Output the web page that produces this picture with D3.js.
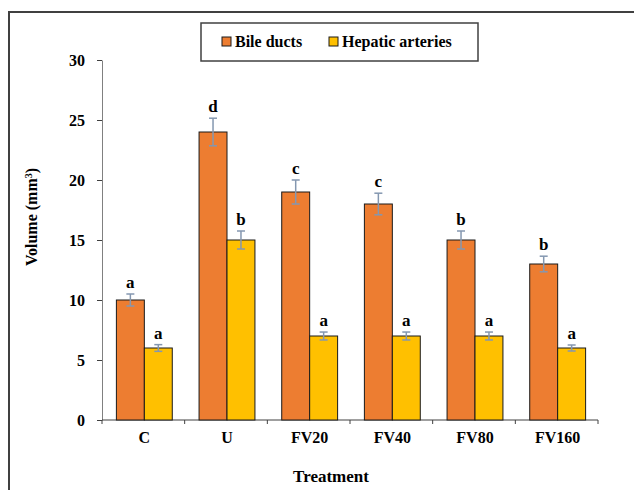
<!DOCTYPE html>
<html>
<head>
<meta charset="utf-8">
<script src="https://cdn.jsdelivr.net/npm/d3@7"></script>
<style>
  body { margin: 0; background: #fff; }
  text { font-family: "Liberation Serif", "Times New Roman", serif; font-weight: bold; fill: #000; }
</style>
</head>
<body>
<svg id="chart"></svg>
<script>
const treatments = ['C', 'U', 'FV20', 'FV40', 'FV80', 'FV160']
const seriesNames = ['Bile ducts', 'Hepatic arteries']
const bileDucts = [10, 24, 19, 18, 15, 13]
const hepaticArteries = [6, 15, 7, 7, 7, 6]
const bileErr = [0.5, 1.15, 1.0, 0.9, 0.75, 0.65]
const hepaticErr = [0.28, 0.75, 0.33, 0.33, 0.33, 0.25]
const bileLetters = ['a', 'd', 'c', 'c', 'b', 'b']
const hepaticLetters = ['a', 'b', 'a', 'a', 'a', 'a']
const yTicks = [0, 5, 10, 15, 20, 25, 30]

const width = 634, height = 490
const margin = { top: 60, right: 36, bottom: 70, left: 102 }
const colors = ['#ed7d31', '#ffc000']

const svg = d3.select('#chart').attr('width', width).attr('height', height)

// outer frame
svg.append('rect')
  .attr('x', 9).attr('y', 12).attr('width', 640).attr('height', 500)
  .attr('fill', 'none').attr('stroke', '#404040').attr('stroke-width', 2)

const x0 = d3.scaleBand()
  .domain(treatments)
  .range([margin.left, width - margin.right])
  .paddingInner(0.324).paddingOuter(0.162)
const x1 = d3.scaleBand().domain(seriesNames).range([0, x0.bandwidth()])
const y = d3.scaleLinear().domain([0, 30]).range([height - margin.bottom, margin.top])

// y axis
const yAxis = svg.append('g')
  .attr('transform', `translate(${margin.left},0)`)
  .call(d3.axisLeft(y).tickValues(yTicks).tickSize(5).tickPadding(12).tickSizeOuter(0))
yAxis.select('.domain').attr('stroke', '#808080')
yAxis.selectAll('.tick line').attr('stroke', '#404040')
yAxis.selectAll('text').style('font-size', '16px')

// x axis with ticks at band boundaries
const xLine = svg.append('g')
xLine.append('line')
  .attr('x1', margin.left).attr('x2', width - margin.right)
  .attr('y1', y(0)).attr('y2', y(0))
  .attr('stroke', '#404040')
const step = x0.step()
d3.range(treatments.length + 1).forEach(i => {
  const xx = margin.left + i * step
  xLine.append('line')
    .attr('x1', xx).attr('x2', xx)
    .attr('y1', y(0)).attr('y2', y(0) + 4)
    .attr('stroke', '#404040')
})
svg.selectAll('.xlab')
  .data(treatments)
  .enter().append('text')
  .attr('x', d => x0(d) + x0.bandwidth() / 2 + 1)
  .attr('y', y(0) + 23)
  .attr('text-anchor', 'middle')
  .style('font-size', '16px')
  .text(d => d)

const rows = treatments.map((t, i) => ({
  t,
  vals: [
    { key: seriesNames[0], v: bileDucts[i], e: bileErr[i], l: bileLetters[i], c: colors[0] },
    { key: seriesNames[1], v: hepaticArteries[i], e: hepaticErr[i], l: hepaticLetters[i], c: colors[1] }
  ]
}))

const g = svg.selectAll('.grp')
  .data(rows)
  .enter().append('g')
  .attr('transform', d => `translate(${x0(d.t) + 1},0)`)

const item = g.selectAll('g').data(d => d.vals).enter().append('g')

item.append('rect')
  .attr('x', d => x1(d.key))
  .attr('y', d => y(d.v))
  .attr('width', x1.bandwidth())
  .attr('height', d => y(0) - y(d.v))
  .attr('fill', d => d.c)
  .attr('stroke', '#1a1a1a')
  .attr('stroke-width', 1)

// error bars
const ebColor = '#8497b0'
item.append('line')
  .attr('x1', d => x1(d.key) + x1.bandwidth() / 2)
  .attr('x2', d => x1(d.key) + x1.bandwidth() / 2)
  .attr('y1', d => y(d.v + d.e)).attr('y2', d => y(d.v - d.e))
  .attr('stroke', ebColor).attr('stroke-width', 1.5)
;[1, -1].forEach(s => {
  item.append('line')
    .attr('x1', d => x1(d.key) + x1.bandwidth() / 2 - 4)
    .attr('x2', d => x1(d.key) + x1.bandwidth() / 2 + 4)
    .attr('y1', d => y(d.v + s * d.e)).attr('y2', d => y(d.v + s * d.e))
    .attr('stroke', ebColor).attr('stroke-width', 1.5)
})

// significance letters
item.append('text')
  .attr('x', d => x1(d.key) + x1.bandwidth() / 2)
  .attr('y', d => y(d.v + d.e) - 6)
  .attr('text-anchor', 'middle')
  .style('font-size', '17px')
  .text(d => d.l)

// axis titles
svg.append('text')
  .attr('transform', `translate(37,217) rotate(-90)`)
  .attr('text-anchor', 'middle')
  .style('font-size', '16px')
  .html('Volume (mm<tspan baseline-shift="super" font-size="10px">3</tspan>)')

svg.append('text')
  .attr('x', 331)
  .attr('y', 482)
  .attr('text-anchor', 'middle')
  .style('font-size', '17px')
  .text('Treatment')

// legend
const lg = svg.append('g')
lg.append('rect')
  .attr('x', 201).attr('y', 23).attr('width', 277).attr('height', 38)
  .attr('fill', '#fff').attr('stroke', '#404040').attr('stroke-width', 1.5)
const legendX = [222, 329]
seriesNames.forEach((n, i) => {
  lg.append('rect')
    .attr('x', legendX[i]).attr('y', 37).attr('width', 9).attr('height', 9)
    .attr('fill', colors[i]).attr('stroke', '#1a1a1a')
  lg.append('text')
    .attr('x', legendX[i] + 13).attr('y', 47)
    .style('font-size', '16px')
    .text(n)
})
</script>
</body>
</html>
